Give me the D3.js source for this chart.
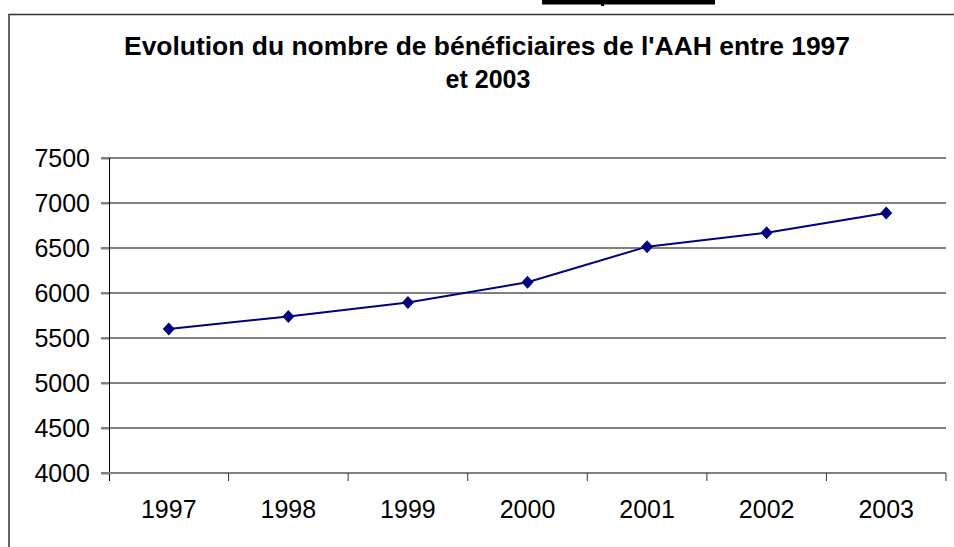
<!DOCTYPE html>
<html>
<head>
    <meta charset="utf-8">
    <title>Evolution du nombre de bénéficiaires de l'AAH</title>
    <script src="https://d3js.org/d3.v7.min.js"></script>
    <style>
        body { margin: 0; background: #fff; }
        text { font-family: "Liberation Sans", Arial, sans-serif; }
    </style>
</head>
<body>
    <svg width="954" height="547"></svg>
    <script>
        // Data
        const years = ["1997", "1998", "1999", "2000", "2001", "2002", "2003"];
        const beneficiaires = [5600, 5740, 5895, 6120, 6515, 6670, 6890];
        const yTicks = [4000, 4500, 5000, 5500, 6000, 6500, 7000, 7500];
        const titleLines = ["Evolution du nombre de bénéficiaires de l'AAH entre 1997", "et 2003"];

        const data = years.map((y, i) => ({year: y, value: beneficiaires[i]}));

        const svg = d3.select("svg");

        // Plot area
        const margin = {top: 158, right: 8, bottom: 74, left: 109},
              width = 954 - margin.left - margin.right,
              height = 547 - margin.top - margin.bottom;

        // bit of the page above the chart (cropped underline)
        svg.append("rect").attr("x", 542).attr("y", 0).attr("width", 173).attr("height", 4.5).attr("fill", "#000");
        svg.append("rect").attr("x", 601).attr("y", 4).attr("width", 3).attr("height", 2).attr("fill", "#000");

        // Chart frame
        svg.append("rect")
            .attr("x", 9).attr("y", 14.5)
            .attr("width", 1000).attr("height", 600)
            .attr("fill", "none")
            .attr("stroke", "#333")
            .attr("stroke-width", 1.5);

        // Title
        svg.append("text")
            .attr("x", 487).attr("y", 55)
            .attr("text-anchor", "middle")
            .attr("textLength", 726)
            .attr("lengthAdjust", "spacingAndGlyphs")
            .style("font-size", "25px")
            .style("font-weight", "bold")
            .text(titleLines[0]);
        svg.append("text")
            .attr("x", 488).attr("y", 88)
            .attr("text-anchor", "middle")
            .style("font-size", "25px")
            .style("font-weight", "bold")
            .text(titleLines[1]);

        const g = svg.append("g")
            .attr("transform", "translate(" + margin.left + "," + margin.top + ")");

        const x = d3.scaleBand().domain(years).range([0, width]).padding(0);
        const y = d3.scaleLinear().domain([4000, 7500]).range([height, 0]);

        // Gridlines
        g.append("g")
            .selectAll("line")
            .data(yTicks)
            .enter().append("line")
            .attr("x1", -8).attr("x2", width)
            .attr("y1", d => y(d)).attr("y2", d => y(d))
            .attr("stroke", "#808080")
            .attr("stroke-width", 2);

        // Y axis
        const yAxis = g.append("g")
            .call(d3.axisLeft(y).tickValues(yTicks).tickSize(8).tickPadding(11).tickFormat(d3.format("d")));
        yAxis.select(".domain").attr("stroke", "#000").attr("d", "M0.5,0V" + (height + 8));
        yAxis.selectAll(".tick line").attr("stroke", "#808080").attr("stroke-width", 2);
        yAxis.selectAll("text")
            .attr("fill", "#000")
            .style("font-size", "25px")
            .attr("font-family", null);

        // X axis: ticks at category boundaries
        const xAxis = g.append("g")
            .attr("transform", "translate(0," + height + ")");
        xAxis.append("line")
            .attr("x1", 0).attr("x2", width)
            .attr("y1", 0).attr("y2", 0)
            .attr("stroke", "#808080").attr("stroke-width", 2);
        xAxis.selectAll(".xtick")
            .data(years.slice(1).concat(["end"]))
            .enter().append("line")
            .attr("class", "xtick")
            .attr("x1", (d, i) => x(years[i]) + x.bandwidth())
            .attr("x2", (d, i) => x(years[i]) + x.bandwidth())
            .attr("y1", 0).attr("y2", 8)
            .attr("stroke", "#333").attr("stroke-width", 1);
        xAxis.selectAll(".xlabel")
            .data(years)
            .enter().append("text")
            .attr("class", "xlabel")
            .attr("x", d => x(d) + x.bandwidth() / 2)
            .attr("y", 45)
            .attr("text-anchor", "middle")
            .style("font-size", "25px")
            .text(d => d);

        // Line
        const line = d3.line()
            .x(d => x(d.year) + x.bandwidth() / 2)
            .y(d => y(d.value));

        g.append("path")
            .datum(data)
            .attr("fill", "none")
            .attr("stroke", "#000080")
            .attr("stroke-width", 2)
            .attr("d", line);

        // Diamond markers
        g.selectAll(".marker")
            .data(data)
            .enter().append("path")
            .attr("class", "marker")
            .attr("transform", d => "translate(" + (x(d.year) + x.bandwidth() / 2) + "," + y(d.value) + ")")
            .attr("d", "M0,-6.5L6,0L0,6.5L-6,0Z")
            .attr("fill", "#000080");
    </script>
</body>
</html>
